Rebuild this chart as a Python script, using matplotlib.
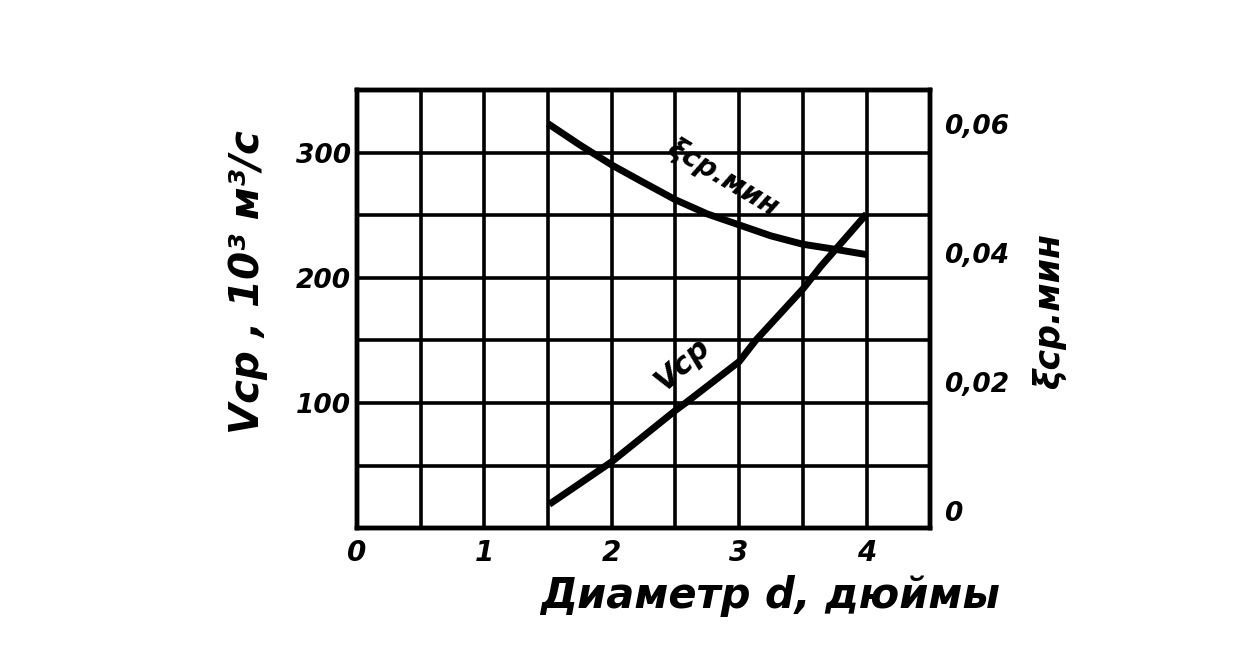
#!/usr/bin/env python3
"""Average flow Vcp and min xi vs pipe diameter (scanned chart remake)."""

import matplotlib
matplotlib.use("Agg")
import matplotlib.pyplot as plt

# diameter, inches
d_v = [1.51, 2.0, 2.5, 2.58, 3.0, 3.13, 3.5, 3.64, 4.0]
# V_cp, 10^3 m^3/s
v_cp = [19, 53, 94, 100, 133, 150, 191, 209, 251]

d_xi = [1.5, 1.75, 2.0, 2.22, 2.5, 2.75, 3.0, 3.25, 3.5, 3.76, 4.0]
xi_min = [0.0600, 0.0567, 0.0536, 0.0512, 0.0482, 0.0460, 0.0443,
          0.0426, 0.0413, 0.0405, 0.0397]

x_ticks = [0, 1, 2, 3, 4]
left_ticks = [100, 200, 300]
right_ticks = [0, 0.02, 0.04, 0.06]
right_labels = ["0", "0,02", "0,04", "0,06"]

FONT = dict(family="DejaVu Sans", weight="bold", style="oblique")


def main() -> None:
    fig = plt.figure(figsize=(12.52, 6.48), dpi=100)
    ax = fig.add_axes([0.285, 0.185, 0.458, 0.676])

    ax.set_xlim(0, 4.5)
    ax.set_ylim(0, 350)
    for gx in [i * 0.5 for i in range(1, 9)]:
        ax.axvline(gx, color="black", linewidth=2.6, zorder=1)
    for gy in range(50, 350, 50):
        ax.axhline(gy, color="black", linewidth=2.6, zorder=1)
    for s in ax.spines.values():
        s.set_linewidth(3.2)

    ax.plot(d_v, v_cp, color="black", linewidth=5, solid_capstyle="butt",
            solid_joinstyle="round", zorder=3)

    ax.set_xticks(x_ticks)
    ax.set_xticklabels([str(t) for t in x_ticks], fontsize=20, **FONT)
    ax.set_yticks(left_ticks)
    ax.set_yticklabels([str(t) for t in left_ticks], fontsize=19, **FONT)
    ax.tick_params(length=0, pad=4)
    ax.tick_params(axis="x", pad=8)

    ax2 = ax.twinx()
    ax2.set_ylim(-0.0027, 0.0652)
    ax2.plot(d_xi, xi_min, color="black", linewidth=5, solid_capstyle="butt",
             solid_joinstyle="round", zorder=3)
    ax2.set_yticks(right_ticks)
    ax2.set_yticklabels(right_labels, fontsize=19, **FONT)
    ax2.tick_params(length=0, pad=10)
    for s in ax2.spines.values():
        s.set_linewidth(3.2)

    # curve labels
    ax.text(2.875, 280, "ξср.мин", rotation=-31, fontsize=20, ha="center",
            va="center", **FONT)
    ax.text(2.56, 131, "Vср", rotation=42, fontsize=22, ha="center",
            va="center", **FONT)

    # axis titles
    fig.text(0.198, 0.565, "Vср , 10³ м³/с", rotation=90, fontsize=29,
             ha="center", va="center", **FONT)
    fig.text(0.838, 0.52, "ξср.мин", rotation=90, fontsize=25,
             ha="center", va="center", **FONT)
    fig.text(0.615, 0.08, "Диаметр d, дюймы", fontsize=30,
             ha="center", va="center", **FONT)

    fig.savefig("out.png", dpi=100, facecolor="white")
    plt.close(fig)


if __name__ == "__main__":
    main()
